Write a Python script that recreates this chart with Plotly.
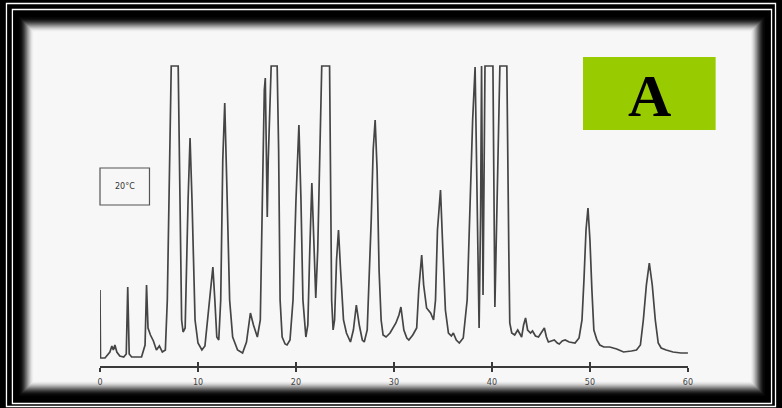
import plotly.graph_objects as go

# Gas chromatogram, column at 20 °C: detector response vs retention time (min)
time_min = [
    0, 0.05, 0.51, 1.01, 1.21, 1.36, 1.52, 1.72, 2.02, 2.42,
    2.68, 2.83, 2.98, 3.23, 4.24, 4.60, 4.75, 4.90, 5.15, 5.45,
    5.76, 6.06, 6.36, 6.67, 6.87, 7.12, 7.27, 7.98, 8.18, 8.33,
    8.48, 8.69, 8.99, 9.19, 9.39, 9.70, 10.00, 10.40, 10.71, 10.91,
    11.06, 11.31, 11.52, 11.72, 11.92, 12.12, 12.32, 12.53, 12.73, 12.93,
    13.23, 13.54, 14.04, 14.55, 14.95, 15.35, 15.66, 16.06, 16.36, 16.57,
    16.77, 16.87, 16.97, 17.07, 17.17, 17.37, 17.47, 18.08, 18.23, 18.38,
    18.59, 18.89, 19.09, 19.39, 19.70, 20.00, 20.30, 20.51, 20.71, 21.01,
    21.21, 21.41, 21.62, 21.82, 22.02, 22.22, 22.42, 22.63, 23.43, 23.54,
    23.64, 23.79, 23.94, 24.14, 24.34, 24.55, 24.85, 25.15, 25.56, 25.86,
    26.16, 26.46, 26.77, 26.97, 27.27, 27.68, 27.88, 28.08, 28.28, 28.48,
    28.69, 28.89, 29.19, 29.60, 30.00, 30.20, 30.51, 30.71, 31.01, 31.31,
    31.52, 31.92, 32.32, 32.53, 32.83, 33.03, 33.33, 33.74, 34.04, 34.24,
    34.44, 34.75, 34.95, 35.25, 35.56, 35.86, 36.06, 36.36, 36.67, 37.07,
    37.47, 37.78, 38.03, 38.28, 38.43, 38.59, 38.69, 38.84, 38.94, 39.09,
    39.29, 40.10, 40.30, 40.81, 41.52, 41.72, 41.82, 42.02, 42.32, 42.63,
    42.83, 43.03, 43.23, 43.43, 43.64, 43.94, 44.14, 44.44, 44.75, 45.05,
    45.35, 45.56, 45.76, 46.06, 46.36, 46.67, 46.87, 47.17, 47.47, 47.88,
    48.48, 48.89, 49.19, 49.39, 49.60, 49.80, 50.00, 50.20, 50.40, 50.71,
    51.01, 51.41, 52.02, 52.73, 53.43, 54.24, 54.75, 55.15, 55.45, 55.76,
    56.06, 56.36, 56.67, 56.97, 57.27, 57.78, 58.48, 59.29, 60.00,
]
response = [
    76, 8, 8, 14, 20, 16, 21, 14, 10, 9,
    12, 79, 12, 9, 9, 21, 81, 38, 31, 25,
    16, 20, 14, 16, 66, 246, 300, 300, 166, 46,
    34, 38, 166, 228, 166, 46, 23, 16, 20, 41,
    54, 76, 99, 66, 29, 26, 66, 206, 263, 186,
    66, 29, 16, 13, 24, 53, 41, 29, 46, 166,
    276, 288, 216, 149, 206, 286, 300, 300, 216, 66,
    29, 22, 21, 26, 66, 166, 241, 166, 66, 29,
    41, 116, 183, 126, 68, 116, 226, 300, 300, 166,
    66, 36, 46, 106, 136, 96, 46, 33, 24, 36,
    61, 41, 26, 24, 36, 146, 216, 246, 196, 96,
    46, 31, 29, 33, 39, 43, 51, 59, 36, 28,
    26, 31, 38, 76, 111, 81, 58, 53, 46, 66,
    136, 176, 126, 56, 33, 30, 33, 26, 23, 28,
    66, 166, 246, 299, 216, 86, 38, 150, 300, 71,
    300, 300, 59, 300, 300, 116, 43, 33, 31, 36,
    33, 29, 41, 48, 36, 33, 35, 30, 29, 34,
    38, 29, 24, 25, 26, 23, 22, 25, 26, 24,
    23, 28, 46, 86, 136, 158, 126, 76, 36, 26,
    21, 19, 19, 17, 14, 15, 16, 21, 46, 81,
    103, 81, 46, 23, 18, 16, 14, 13, 13,
]
tick_vals = [0, 10, 20, 30, 40, 50, 60]
tick_text = ["0", "10", "20", "30", "40", "50", "60"]
temp_label = "20°C"
panel_label = "A"

W, H = 782, 408


def fx(x):
    return x / W


def fy(y):
    return 1 - y / H


shapes = []

# paper sheet with soft dark edges
x0, y0, x1, y1 = 16, 17, 770, 396
steps = 15
for k in range(steps + 1):
    f = k / steps
    s = f * f * (3 - 2 * f)
    g = int(round(6 + s * 241))
    shapes.append(dict(
        type="rect", xref="paper", yref="paper", layer="below",
        x0=fx(x0 + k), x1=fx(x1 - k), y0=fy(y1 - k), y1=fy(y0 + k),
        line=dict(width=0), fillcolor=f"rgb({g},{g},{g})",
    ))

# double white frame lines
for (a, b, c, d) in [(3.5, 3.5, 780.5, 406.5), (9.5, 9.5, 776.5, 403.5)]:
    shapes.append(dict(
        type="rect", xref="paper", yref="paper", layer="above",
        x0=fx(a), x1=fx(c), y0=fy(d), y1=fy(b),
        line=dict(color="white", width=1.3), fillcolor="rgba(0,0,0,0)",
    ))

# temperature box
shapes.append(dict(
    type="rect", xref="paper", yref="paper", layer="above",
    x0=fx(98), x1=fx(148), y0=fy(205), y1=fy(168),
    line=dict(color="#555555", width=1.2), fillcolor="rgba(0,0,0,0)",
))

# panel label box
shapes.append(dict(
    type="rect", xref="paper", yref="paper", layer="above",
    x0=fx(586), x1=fx(720), y0=fy(130), y1=fy(57),
    line=dict(width=0), fillcolor="#99cc00",
))

fig = go.Figure()
fig.add_trace(go.Scatter(
    x=time_min, y=response, mode="lines",
    line=dict(color="#454545", width=1.7),
    showlegend=False, hoverinfo="skip",
))
fig.add_trace(go.Scatter(
    x=[0, 60], y=[None, None], xaxis="x2", mode="lines",
    showlegend=False, hoverinfo="skip",
))

fig.update_layout(
    width=W, height=H,
    margin=dict(l=0, r=0, t=0, b=0),
    paper_bgcolor="black",
    plot_bgcolor="rgba(0,0,0,0)",
    shapes=shapes,
    xaxis=dict(
        domain=[fx(98), fx(692)], range=[0, 60], anchor="y",
        showgrid=False, zeroline=False,
        showline=True, linecolor="#3a3a3a", linewidth=2,
        ticks="outside", ticklen=4, tickwidth=1.5, tickcolor="#3a3a3a",
        tickvals=tick_vals, ticktext=tick_text,
        tickfont=dict(family="DejaVu Sans", size=8, color="#444444"),
        ticklabelstandoff=3,
    ),
    xaxis2=dict(
        domain=[fx(98), fx(692)], range=[0, 60], anchor="y",
        overlaying="x", showgrid=False, zeroline=False, showline=False,
        ticks="inside", ticklen=4, tickwidth=1.5, tickcolor="#3a3a3a",
        tickvals=tick_vals, showticklabels=False,
    ),
    yaxis=dict(
        domain=[fy(366), fy(62)], range=[0, 304],
        visible=False, showgrid=False, zeroline=False,
    ),
    annotations=[
        dict(
            text=temp_label, xref="paper", yref="paper",
            x=fx(123), y=fy(187), xanchor="center", yanchor="middle",
            showarrow=False,
            font=dict(family="DejaVu Sans", size=8, color="#333333"),
        ),
        dict(
            text=f"<b>{panel_label}</b>", xref="paper", yref="paper",
            x=fx(653), y=fy(96), xanchor="center", yanchor="middle",
            showarrow=False,
            font=dict(family="Liberation Serif", size=60, color="black"),
        ),
    ],
)

fig.write_html("out.html")
